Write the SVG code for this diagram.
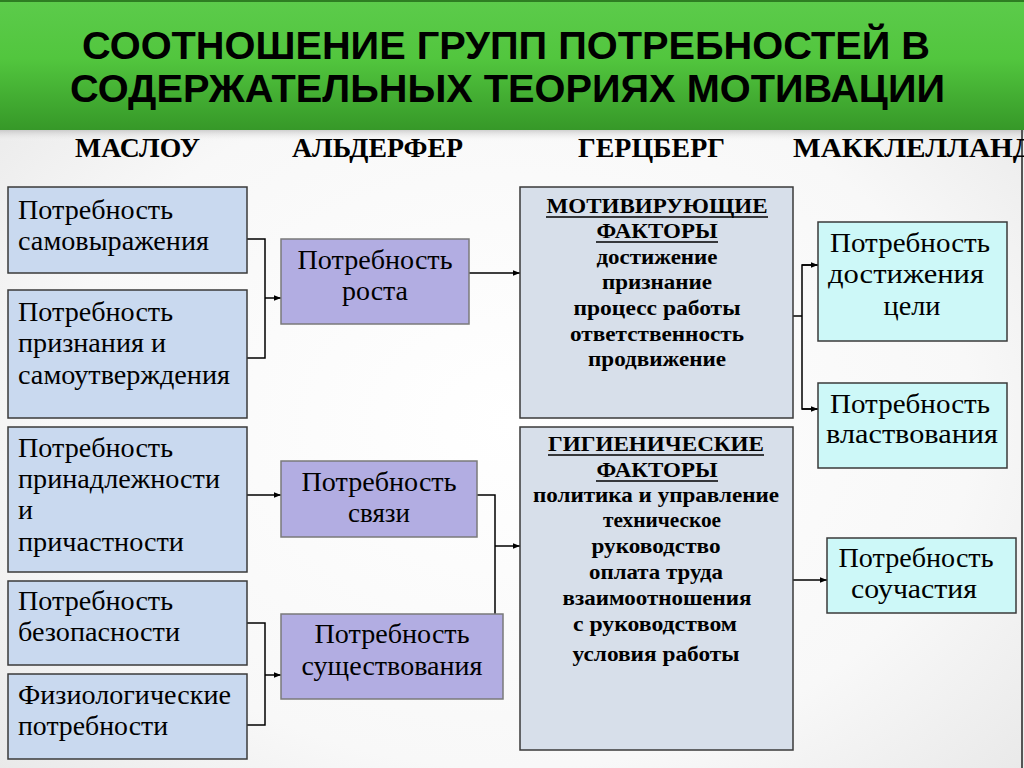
<svg xmlns="http://www.w3.org/2000/svg" width="1024" height="768" viewBox="0 0 1024 768">
  <defs>
    <linearGradient id="green" x1="0" y1="0" x2="0" y2="1">
      <stop offset="0" stop-color="#5ccb4b"/>
      <stop offset="0.45" stop-color="#52c63e"/>
      <stop offset="1" stop-color="#369828"/>
    </linearGradient>
    <radialGradient id="bg" cx="0.5" cy="0.55" r="0.75">
      <stop offset="0" stop-color="#ffffff"/>
      <stop offset="0.6" stop-color="#f8f8f8"/>
      <stop offset="1" stop-color="#e4e4e4"/>
    </radialGradient>
    <linearGradient id="shadow" x1="0" y1="0" x2="0" y2="1">
      <stop offset="0" stop-color="#9a9a9a" stop-opacity="0.6"/>
      <stop offset="1" stop-color="#ffffff" stop-opacity="0"/>
    </linearGradient>
    <marker id="arr" viewBox="0 0 10 10" refX="10" refY="5" markerWidth="7" markerHeight="7" markerUnits="userSpaceOnUse" orient="auto">
      <path d="M0,1 L10,5 L0,9 z" fill="#000"/>
    </marker>
  </defs>
  <style>
    .title { font-family: "Liberation Sans", Arial, sans-serif; font-weight: bold; font-size: 39px; fill: #000; }
    .col { font-family: "Liberation Serif", "Times New Roman", serif; font-weight: bold; font-size: 27px; fill: #000; }
    .t { font-family: "Liberation Serif", "Times New Roman", serif; font-size: 28px; fill: #000; }
    .c { text-anchor: middle; }
    .h { font-family: "Liberation Serif", "Times New Roman", serif; font-weight: bold; font-size: 22px; fill: #000; text-anchor: middle; }
    .maslow { fill: #c9d9ef; stroke: #3a3a3a; stroke-width: 1.5; }
    .alder { fill: #b2ade2; stroke: #7a7a7a; stroke-width: 1.5; }
    .herz { fill: #d7dfea; stroke: #3a3a3a; stroke-width: 1.5; }
    .mccl { fill: #cdf8f8; stroke: #3a3a3a; stroke-width: 1.5; }
    .ln { fill: none; stroke: #000; stroke-width: 1.5; }
    .ul { stroke: #000; stroke-width: 1.5; }
  </style>

  <rect x="0" y="0" width="1024" height="768" fill="url(#bg)"/>
  <rect x="0" y="128" width="1024" height="14" fill="url(#shadow)"/>
  <rect x="0" y="0" width="1024" height="130" fill="url(#green)"/>
  <line x1="0" y1="1" x2="1024" y2="1" stroke="#2e7d22" stroke-width="2"/>
  <line x1="1022" y1="130" x2="1022" y2="768" stroke="#555" stroke-width="2"/>

  <g id="title">
    <text class="title" x="82" y="59" textLength="848" lengthAdjust="spacingAndGlyphs">СООТНОШЕНИЕ ГРУПП ПОТРЕБНОСТЕЙ В</text>
    <text class="title" x="70" y="102" textLength="875" lengthAdjust="spacingAndGlyphs">СОДЕРЖАТЕЛЬНЫХ ТЕОРИЯХ МОТИВАЦИИ</text>
  </g>

  <g id="column-headers">
    <text class="col" x="75" y="157" textLength="125" lengthAdjust="spacingAndGlyphs">МАСЛОУ</text>
    <text class="col" x="292" y="157" textLength="171" lengthAdjust="spacingAndGlyphs">АЛЬДЕРФЕР</text>
    <text class="col" x="578" y="157" textLength="147" lengthAdjust="spacingAndGlyphs">ГЕРЦБЕРГ</text>
    <text class="col" x="793" y="157" textLength="240" lengthAdjust="spacingAndGlyphs">МАККЛЕЛЛАНД</text>
  </g>

  <g id="connectors">
    <polyline class="ln" points="247,239 265,239 265,358 247,358"/>
    <line class="ln" x1="265" y1="298" x2="281" y2="298" marker-end="url(#arr)"/>
    <line class="ln" x1="247" y1="495" x2="281" y2="495" marker-end="url(#arr)"/>
    <polyline class="ln" points="247,623 265,623 265,725 247,725"/>
    <line class="ln" x1="265" y1="675" x2="281" y2="675" marker-end="url(#arr)"/>
    <line class="ln" x1="469" y1="273" x2="520" y2="273" marker-end="url(#arr)"/>
    <polyline class="ln" points="477,495 495,495 495,614" stroke="#555"/>
    <line class="ln" x1="495" y1="546" x2="520" y2="546" marker-end="url(#arr)"/>
    <line class="ln" x1="793" y1="316" x2="802" y2="316"/>
    <polyline class="ln" points="818,265 802,265 802,409 818,409"/>
    <line class="ln" x1="802" y1="265" x2="818" y2="265" marker-end="url(#arr)"/>
    <line class="ln" x1="802" y1="409" x2="818" y2="409" marker-end="url(#arr)"/>
    <line class="ln" x1="793" y1="580" x2="827" y2="580" marker-end="url(#arr)"/>
  </g>

  <g id="maslow-1">
    <rect class="maslow" x="8" y="187" width="239" height="86"/>
    <text class="t" x="18" y="219" textLength="155" lengthAdjust="spacingAndGlyphs">Потребность</text>
    <text class="t" x="18" y="250" textLength="191" lengthAdjust="spacingAndGlyphs">самовыражения</text>
  </g>
  <g id="maslow-2">
    <rect class="maslow" x="8" y="290" width="239" height="128"/>
    <text class="t" x="18" y="321" textLength="155" lengthAdjust="spacingAndGlyphs">Потребность</text>
    <text class="t" x="18" y="352" textLength="148" lengthAdjust="spacingAndGlyphs">признания и</text>
    <text class="t" x="18" y="384" textLength="212" lengthAdjust="spacingAndGlyphs">самоутверждения</text>
  </g>
  <g id="maslow-3">
    <rect class="maslow" x="8" y="427" width="239" height="145"/>
    <text class="t" x="18" y="457" textLength="155" lengthAdjust="spacingAndGlyphs">Потребность</text>
    <text class="t" x="18" y="488" textLength="202" lengthAdjust="spacingAndGlyphs">принадлежности</text>
    <text class="t" x="18" y="519">и</text>
    <text class="t" x="18" y="551" textLength="166" lengthAdjust="spacingAndGlyphs">причастности</text>
  </g>
  <g id="maslow-4">
    <rect class="maslow" x="8" y="581" width="239" height="84"/>
    <text class="t" x="18" y="610" textLength="155" lengthAdjust="spacingAndGlyphs">Потребность</text>
    <text class="t" x="18" y="641" textLength="162" lengthAdjust="spacingAndGlyphs">безопасности</text>
  </g>
  <g id="maslow-5">
    <rect class="maslow" x="8" y="674" width="239" height="85"/>
    <text class="t" x="18" y="704" textLength="213" lengthAdjust="spacingAndGlyphs">Физиологические</text>
    <text class="t" x="18" y="735" textLength="150" lengthAdjust="spacingAndGlyphs">потребности</text>
  </g>

  <g id="alderfer-growth">
    <rect class="alder" x="281" y="239" width="188" height="85"/>
    <text class="t c" x="375" y="269" textLength="155" lengthAdjust="spacingAndGlyphs">Потребность</text>
    <text class="t c" x="375" y="300" textLength="66" lengthAdjust="spacingAndGlyphs">роста</text>
  </g>
  <g id="alderfer-relatedness">
    <rect class="alder" x="281" y="461" width="196" height="76"/>
    <text class="t c" x="379" y="491" textLength="155" lengthAdjust="spacingAndGlyphs">Потребность</text>
    <text class="t c" x="379" y="522" textLength="62" lengthAdjust="spacingAndGlyphs">связи</text>
  </g>
  <g id="alderfer-existence">
    <rect class="alder" x="281" y="614" width="222" height="85"/>
    <text class="t c" x="392" y="643" textLength="155" lengthAdjust="spacingAndGlyphs">Потребность</text>
    <text class="t c" x="392" y="675" textLength="181" lengthAdjust="spacingAndGlyphs">существования</text>
  </g>

  <g id="herzberg-motivators">
    <rect class="herz" x="520" y="187" width="273" height="231"/>
    <text class="h" x="657" y="213" textLength="221" lengthAdjust="spacingAndGlyphs">МОТИВИРУЮЩИЕ</text>
    <line class="ul" x1="546" y1="217" x2="768" y2="217"/>
    <text class="h" x="657" y="238" textLength="121" lengthAdjust="spacingAndGlyphs">ФАКТОРЫ</text>
    <line class="ul" x1="596" y1="242" x2="718" y2="242"/>
    <text class="h" x="657" y="264" textLength="121" lengthAdjust="spacingAndGlyphs">достижение</text>
    <text class="h" x="657" y="289" textLength="110" lengthAdjust="spacingAndGlyphs">признание</text>
    <text class="h" x="657" y="315" textLength="167" lengthAdjust="spacingAndGlyphs">процесс работы</text>
    <text class="h" x="657" y="341" textLength="174" lengthAdjust="spacingAndGlyphs">ответственность</text>
    <text class="h" x="657" y="366" textLength="138" lengthAdjust="spacingAndGlyphs">продвижение</text>
  </g>
  <g id="herzberg-hygiene">
    <rect class="herz" x="520" y="427" width="273" height="323"/>
    <text class="h" x="656" y="451" textLength="216" lengthAdjust="spacingAndGlyphs">ГИГИЕНИЧЕСКИЕ</text>
    <line class="ul" x1="548" y1="455" x2="764" y2="455"/>
    <text class="h" x="657" y="477" textLength="121" lengthAdjust="spacingAndGlyphs">ФАКТОРЫ</text>
    <line class="ul" x1="596" y1="481" x2="718" y2="481"/>
    <text class="h" x="656" y="502" textLength="246" lengthAdjust="spacingAndGlyphs">политика и управление</text>
    <text class="h" x="662" y="527" textLength="118" lengthAdjust="spacingAndGlyphs">техническое</text>
    <text class="h" x="656" y="553" textLength="129" lengthAdjust="spacingAndGlyphs">руководство</text>
    <text class="h" x="656" y="579" textLength="134" lengthAdjust="spacingAndGlyphs">оплата труда</text>
    <text class="h" x="657" y="605" textLength="189" lengthAdjust="spacingAndGlyphs">взаимоотношения</text>
    <text class="h" x="655" y="631" textLength="164" lengthAdjust="spacingAndGlyphs">с руководством</text>
    <text class="h" x="656" y="661" textLength="167" lengthAdjust="spacingAndGlyphs">условия работы</text>
  </g>

  <g id="mcclelland-achievement">
    <rect class="mccl" x="818" y="222" width="189" height="119"/>
    <text class="t c" x="910" y="252" textLength="160" lengthAdjust="spacingAndGlyphs">Потребность</text>
    <text class="t c" x="906" y="283" textLength="156" lengthAdjust="spacingAndGlyphs">достижения</text>
    <text class="t c" x="912" y="315" textLength="57" lengthAdjust="spacingAndGlyphs">цели</text>
  </g>
  <g id="mcclelland-power">
    <rect class="mccl" x="818" y="383" width="189" height="85"/>
    <text class="t c" x="910" y="413" textLength="160" lengthAdjust="spacingAndGlyphs">Потребность</text>
    <text class="t c" x="912" y="443" textLength="172" lengthAdjust="spacingAndGlyphs">властвования</text>
  </g>
  <g id="mcclelland-affiliation">
    <rect class="mccl" x="827" y="538" width="189" height="75"/>
    <text class="t c" x="916" y="567" textLength="155" lengthAdjust="spacingAndGlyphs">Потребность</text>
    <text class="t c" x="914" y="598" textLength="126" lengthAdjust="spacingAndGlyphs">соучастия</text>
  </g>
</svg>
